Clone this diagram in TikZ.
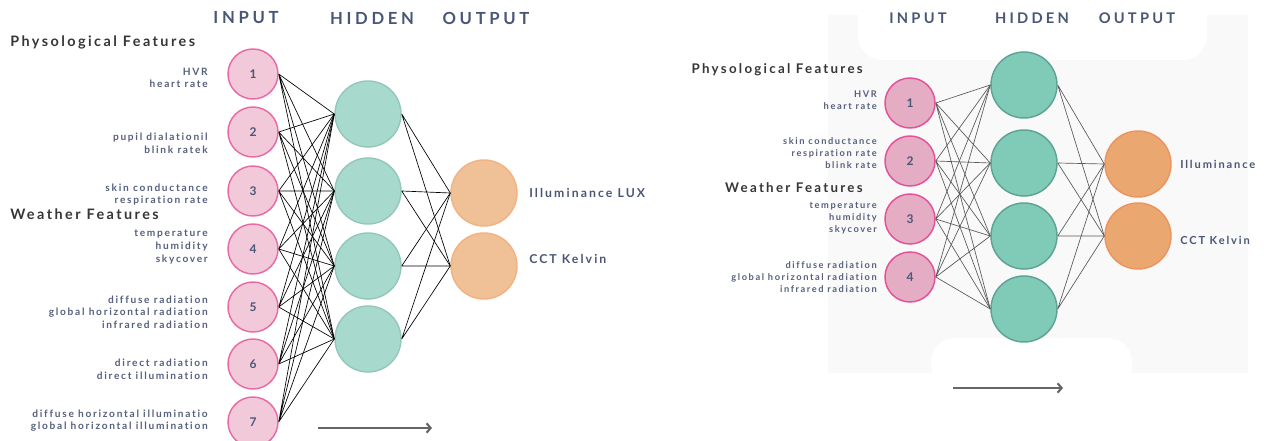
\documentclass[tikz,border=0pt]{standalone}
\usepackage{fontspec}
\setmainfont{Lato}
\newfontfamily\hdrfont[LetterSpace=22,Ligatures=NoCommon]{Lato}
\newfontfamily\lblfont[LetterSpace=17,Ligatures=NoCommon]{Lato}
\usetikzlibrary{arrows.meta}

\definecolor{hdrblue}{HTML}{4A5675}
\definecolor{lblblue}{HTML}{55607E}
\definecolor{grptext}{HTML}{363636}
\definecolor{inFillA}{HTML}{F2C9D9}
\definecolor{inEdgeA}{HTML}{E96AA6}
\definecolor{hidFillA}{HTML}{A8D9CD}
\definecolor{hidEdgeA}{HTML}{93C8BB}
\definecolor{outFillA}{HTML}{F0C196}
\definecolor{outEdgeA}{HTML}{F2B283}
\definecolor{inFillB}{HTML}{E4ADC3}
\definecolor{inEdgeB}{HTML}{E5509A}
\definecolor{hidFillB}{HTML}{80CBB7}
\definecolor{hidEdgeB}{HTML}{5FA395}
\definecolor{outFillB}{HTML}{EAA76F}
\definecolor{outEdgeB}{HTML}{EC9560}
\definecolor{bggray}{HTML}{F9F9F9}
\definecolor{arrowgray}{HTML}{666666}

\tikzset{
  neuron/.style={circle, inner sep=0pt, line width=1.1pt,
    font=\lblfont\bfseries\fontsize{9}{10}\selectfont, text=hdrblue},
  inA/.style={neuron, draw=inEdgeA, fill=inFillA, minimum size=37.5pt},
  hidA/.style={neuron, draw=hidEdgeA, fill=hidFillA, minimum size=49.5pt},
  outA/.style={neuron, draw=outEdgeA, fill=outFillA, minimum size=49.5pt},
  inB/.style={neuron, draw=inEdgeB, fill=inFillB, minimum size=37.5pt},
  hidB/.style={neuron, draw=hidEdgeB, fill=hidFillB, minimum size=49.5pt},
  outB/.style={neuron, draw=outEdgeB, fill=outFillB, minimum size=49.5pt},
  layerhdr/.style={font=\hdrfont\bfseries\fontsize{12.5}{14}\selectfont, text=hdrblue, inner sep=0pt},
  layerhdrB/.style={layerhdr, font=\hdrfont\bfseries\fontsize{11}{13}\selectfont},
  grouphdr/.style={font=\lblfont\bfseries\fontsize{10.8}{12}\selectfont, text=grptext, inner sep=0pt},
  grouphdrB/.style={grouphdr, font=\lblfont\bfseries\fontsize{10}{12}\selectfont},
  featlbl/.style={anchor=east, align=right, inner sep=0pt,
    font=\lblfont\bfseries\fontsize{7.6}{9.5}\selectfont, text=lblblue},
  featlblB/.style={featlbl, font=\lblfont\bfseries\fontsize{6.95}{8.8}\selectfont},
  outlbl/.style={anchor=west, inner sep=0pt,
    font=\lblfont\bfseries\fontsize{9.2}{11}\selectfont, text=hdrblue},
  outlblB/.style={outlbl, font=\lblfont\bfseries\fontsize{8.3}{10}\selectfont},
  connA/.style={line width=0.5pt, black},
  connB/.style={line width=0.5pt, draw=black!65},
  flowarrow/.style={line width=1.6pt, draw=arrowgray, -{Straight Barb[length=3pt,width=7pt]}}
}

\begin{document}
\begin{tikzpicture}[x=0.75pt,y=0.75pt,yscale=-1,xscale=1]
\useasboundingbox (0,0) rectangle (1268,441);

%Background of the second network
\fill [bggray] (828,15) rectangle (1248,373);
\fill [white, rounded corners=18pt] (858,-10) rectangle (1207,60);
\fill [white, rounded corners=18pt] (931,338) rectangle (1132,390);

%----- first network -----
%Layer titles
\node [layerhdr] (tinA) at (246,18) {INPUT};
\node [layerhdr] (thidA) at (372,18) {HIDDEN};
\node [layerhdr] (toutA) at (486,18) {OUTPUT};
\node [grouphdr, anchor=west] (physA) at (10,42) {Physological Features};
\node [grouphdr, anchor=west] (weathA) at (10,214) {Weather Features};

%Input layer
\node [inA] (a1) at (253,74) {1};
\node [inA] (a2) at (253,132) {2};
\node [inA] (a3) at (253,191) {3};
\node [inA] (a4) at (253,249) {4};
\node [inA] (a5) at (253,307) {5};
\node [inA] (a6) at (253,364) {6};
\node [inA] (a7) at (253,422) {7};

%Hidden layer
\node [hidA] (h1) at (368,114) {};
\node [hidA] (h2) at (368,191) {};
\node [hidA] (h3) at (368,266) {};
\node [hidA] (h4) at (368,339) {};

%Output layer
\node [outA] (o1) at (484,193) {};
\node [outA] (o2) at (484,266) {};

%Feature labels
\node [featlbl] (fa1) at (208,78) {HVR\\heart rate};
\node [featlbl] (fa2) at (208,143) {pupil dialationil\\blink ratek};
\node [featlbl] (fa3) at (208,194.5) {skin conductance\\respiration rate};
\node [featlbl] (fa4) at (208,247) {temperature\\humidity\\skycover};
\node [featlbl] (fa5) at (208,312) {diffuse radiation\\global horizontal radiation\\infrared radiation};
\node [featlbl] (fa6) at (208,369.5) {direct radiation\\direct illumination};
\node [featlbl] (fa7) at (208,420.5) {diffuse horizontal illuminatio\\global horizontal illumination};
\node [outlbl] (la1) at (529,193) {Illuminance LUX};
\node [outlbl] (la2) at (529,259) {CCT Kelvin};

%Connections input -> hidden
\draw [connA] (a1.east) -- (h1.west) (a1.east) -- (h2.west) (a1.east) -- (h3.west) (a1.east) -- (h4.west);
\draw [connA] (a2.east) -- (h1.west) (a2.east) -- (h2.west) (a2.east) -- (h3.west) (a2.east) -- (h4.west);
\draw [connA] (a3.east) -- (h1.west) (a3.east) -- (h2.west) (a3.east) -- (h3.west) (a3.east) -- (h4.west);
\draw [connA] (a4.east) -- (h1.west) (a4.east) -- (h2.west) (a4.east) -- (h3.west) (a4.east) -- (h4.west);
\draw [connA] (a5.east) -- (h1.west) (a5.east) -- (h2.west) (a5.east) -- (h3.west) (a5.east) -- (h4.west);
\draw [connA] (a6.east) -- (h1.west) (a6.east) -- (h2.west) (a6.east) -- (h3.west) (a6.east) -- (h4.west);
\draw [connA] (a7.east) -- (h1.west) (a7.east) -- (h2.west) (a7.east) -- (h3.west) (a7.east) -- (h4.west);
%Connections hidden -> output
\draw [connA] (h1.east) -- (o1.west) (h1.east) -- (o2.west);
\draw [connA] (h2.east) -- (o1.west) (h2.east) -- (o2.west);
\draw [connA] (h3.east) -- (o1.west) (h3.east) -- (o2.west);
\draw [connA] (h4.east) -- (o1.west) (h4.east) -- (o2.west);

%Flow arrow
\coordinate (fsA) at (318,428);
\coordinate (feA) at (432,428);
\draw [flowarrow] (fsA) -- (feA);

%----- second network -----
%Layer titles
\node [layerhdrB] (tinB) at (918,18) {INPUT};
\node [layerhdrB] (thidB) at (1032,18) {HIDDEN};
\node [layerhdrB] (toutB) at (1137,18) {OUTPUT};
\node [grouphdrB, anchor=east] (physB) at (863,70) {Physological Features};
\node [grouphdrB, anchor=east] (weathB) at (863,188) {Weather Features};

%Input layer
\node [inB] (b1) at (910,103) {1};
\node [inB] (b2) at (910,161) {2};
\node [inB] (b3) at (910,219) {3};
\node [inB] (b4) at (910,277) {4};

%Hidden layer
\node [hidB] (k1) at (1024,85) {};
\node [hidB] (k2) at (1024,163) {};
\node [hidB] (k3) at (1024,236) {};
\node [hidB] (k4) at (1024,309) {};

%Output layer
\node [outB] (p1) at (1138,164) {};
\node [outB] (p2) at (1138,236) {};

%Feature labels
\node [featlblB] (fb1) at (877,100) {HVR\\heart rate};
\node [featlblB] (fb2) at (877,153) {skin conductance\\respiration rate\\blink rate};
\node [featlblB] (fb3) at (877,218) {temperature\\humidity\\skycover};
\node [featlblB] (fb4) at (877,277) {diffuse radiation\\global horizontal radiation\\infrared radiation};
\node [outlblB] (lb1) at (1180,164) {Illuminance};
\node [outlblB] (lb2) at (1180,240) {CCT Kelvin};

%Connections input -> hidden
\draw [connB] (b1.east) -- (k1.west) (b1.east) -- (k2.west) (b1.east) -- (k3.west) (b1.east) -- (k4.west);
\draw [connB] (b2.east) -- (k1.west) (b2.east) -- (k2.west) (b2.east) -- (k3.west) (b2.east) -- (k4.west);
\draw [connB] (b3.east) -- (k1.west) (b3.east) -- (k2.west) (b3.east) -- (k3.west) (b3.east) -- (k4.west);
\draw [connB] (b4.east) -- (k1.west) (b4.east) -- (k2.west) (b4.east) -- (k3.west) (b4.east) -- (k4.west);
%Connections hidden -> output
\draw [connB] (k1.east) -- (p1.west) (k1.east) -- (p2.west);
\draw [connB] (k2.east) -- (p1.west) (k2.east) -- (p2.west);
\draw [connB] (k3.east) -- (p1.west) (k3.east) -- (p2.west);
\draw [connB] (k4.east) -- (p1.west) (k4.east) -- (p2.west);

%Flow arrow
\coordinate (fsB) at (953,388);
\coordinate (feB) at (1063,388);
\draw [flowarrow] (fsB) -- (feB);
\end{tikzpicture}
\end{document}
